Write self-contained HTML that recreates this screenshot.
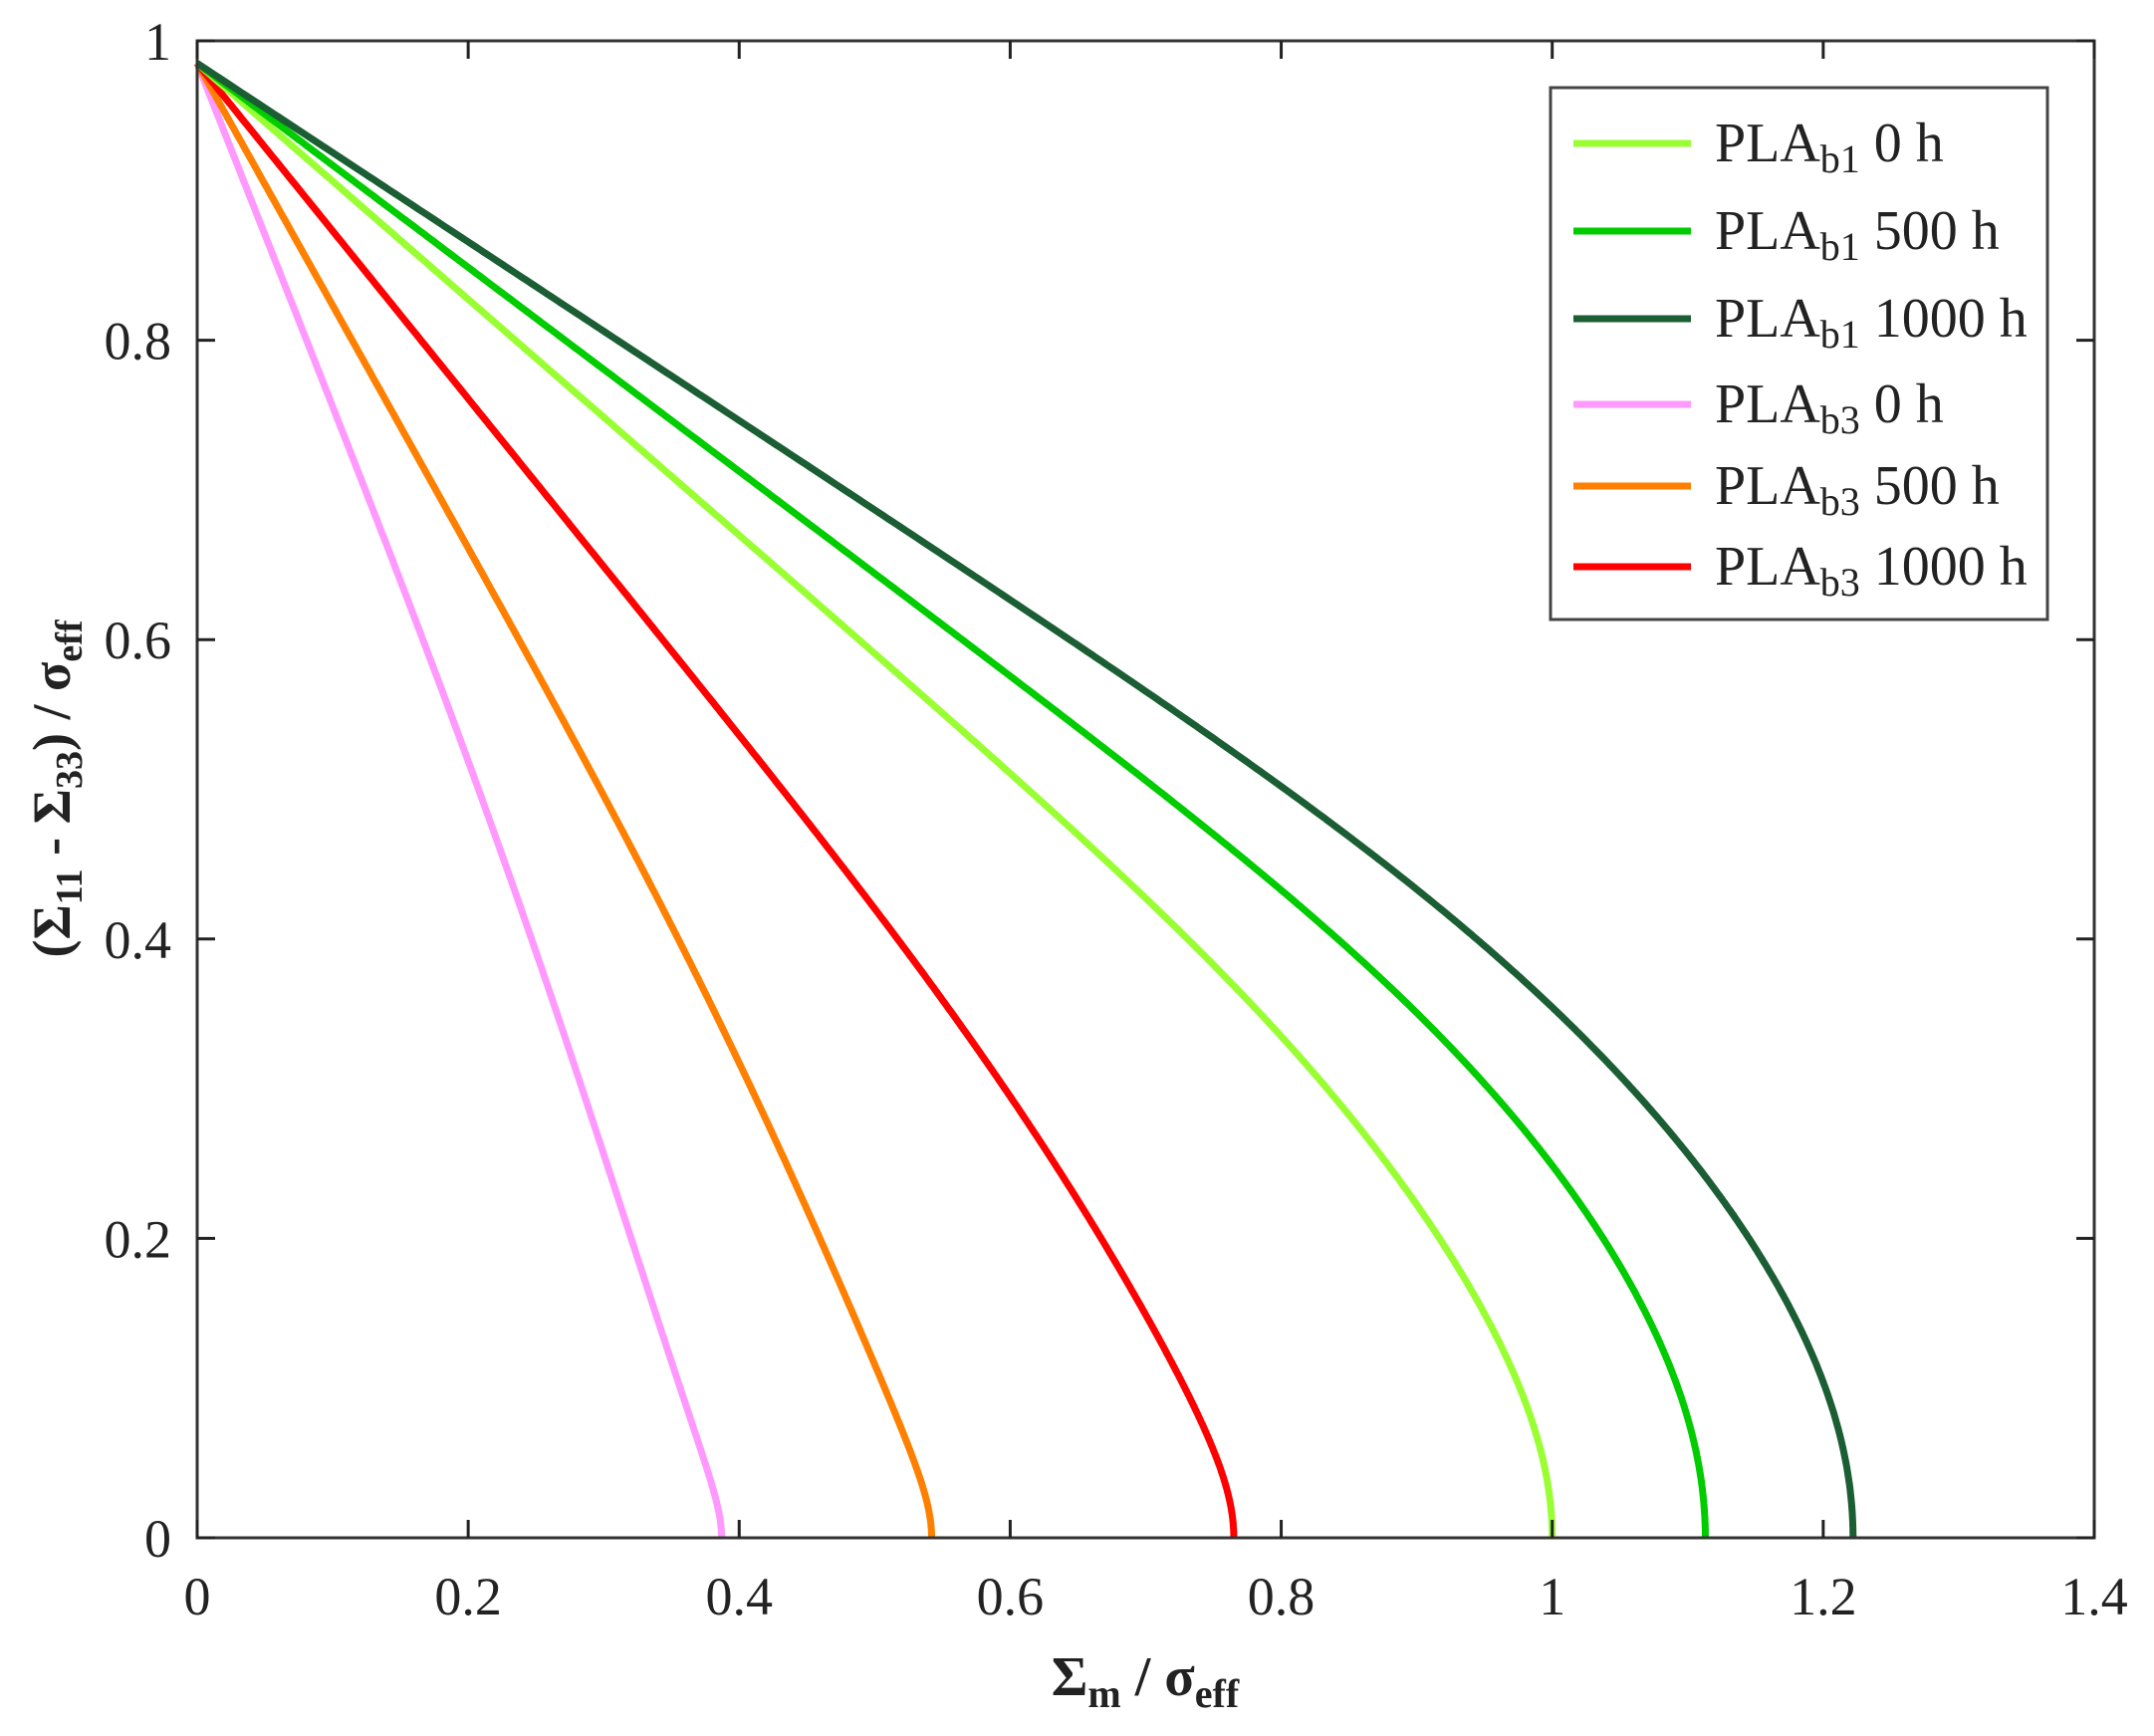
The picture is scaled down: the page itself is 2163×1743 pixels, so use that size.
<!DOCTYPE html>
<html><head><meta charset="utf-8"><style>
html,body{margin:0;padding:0;background:#fff}
svg text{font-family:"Liberation Serif",serif;fill:#222}
</style></head><body>
<svg id="s" width="2163" height="1738" xmlns="http://www.w3.org/2000/svg">
<g id="curves" fill="none" stroke-width="7" stroke-linejoin="round"></g>
<g stroke="#333" stroke-width="3" fill="none">
<rect x="198" y="41" width="1905" height="1503"/>
</g>
<g id="ticks" stroke="#222" stroke-width="3"></g>
<g id="labels" font-size="54"></g>
<text x="1150" y="1702" font-size="56" font-weight="bold" text-anchor="middle">Σ<tspan font-size="40" dy="12">m</tspan><tspan dy="-12"> / σ</tspan><tspan font-size="40" dy="12">eff</tspan></text>
<text transform="translate(70,792) rotate(-90)" font-size="54" font-weight="bold" text-anchor="middle">(Σ<tspan font-size="38" dy="12">11</tspan><tspan dy="-12"> - Σ</tspan><tspan font-size="38" dy="12">33</tspan><tspan dy="-12">) / σ</tspan><tspan font-size="38" dy="12">eff</tspan></text>
<rect x="1557" y="88" width="499" height="534" fill="#fff" stroke="#444" stroke-width="3"/>
<g id="legend" font-size="56"></g>
</svg>
<script>
var X0=198,XS=1360.7,Y0=1544,YS=1503;
function px(p){return X0+p*XS}function py(q){return Y0-q*YS}
var series=[
["#ff99ff",0.387,[[0.6,0.165],[0.4,0.252],[0.2,0.316]]],
["#ff8000",0.542,[[0.6,0.236],[0.4,0.356],[0.2,0.459]]],
["#ff0000",0.765,[[0.6,0.338],[0.4,0.526],[0.2,0.664]]],
["#99ff33",1.0,[[0.6,0.472],[0.4,0.744],[0.2,0.913]]],
["#00cc00",1.113,[[0.6,0.548],[0.4,0.862],[0.2,1.031]]],
["#1b5e34",1.222,[[0.6,0.628],[0.4,0.958],[0.2,1.14]]]];
function f(r,c,k){return 0.985*(1-c*r)*Math.sqrt(Math.max(0,1-Math.pow(r,k)))}
var g=document.getElementById('curves'),NS="http://www.w3.org/2000/svg";
series.forEach(function(s){
 var p0=s[1],best=[0.7,4],be=1e9;
 for(var c=0.2;c<=1.3;c+=0.01)for(var k=1.5;k<=14;k+=0.1){
  var e=0;s[2].forEach(function(d){var r=d[1]/p0;var q=f(r,c,k);e+=(q-d[0])*(q-d[0]);});
  if(e<be){be=e;best=[c,k];}}
 var d="";
 for(var i=0;i<=600;i++){var t=i/600;var r=1-Math.pow(1-t,2);
  var q=f(r,best[0],best[1]);d+=(i?"L":"M")+px(r*p0).toFixed(1)+","+py(q).toFixed(1);}
 var e=document.createElementNS(NS,"path");e.setAttribute("d",d);e.setAttribute("stroke",s[0]);g.appendChild(e);
});
var t=document.getElementById('ticks'),l=document.getElementById('labels');
function line(a,b,c,d){var e=document.createElementNS(NS,"line");e.setAttribute("x1",a);e.setAttribute("y1",b);e.setAttribute("x2",c);e.setAttribute("y2",d);t.appendChild(e);}
function txt(x,y,s,anc){var e=document.createElementNS(NS,"text");e.setAttribute("x",x);e.setAttribute("y",y);e.setAttribute("text-anchor",anc);e.textContent=s;l.appendChild(e);}
var xl=["0","0.2","0.4","0.6","0.8","1","1.2","1.4"];
for(var i=0;i<8;i++){var x=px(i*0.2);line(x,Y0,x,Y0-18);line(x,41,x,59);txt(x,1621,xl[i],"middle");}
var yl=["0","0.2","0.4","0.6","0.8","1"];
for(var i=0;i<6;i++){var y=py(i*0.2);line(X0,y,X0+18,y);line(2103,y,2085,y);txt(172,y+19,yl[i],"end");}
var lg=document.getElementById('legend');
var names=[["b1","0 h"],["b1","500 h"],["b1","1000 h"],["b3","0 h"],["b3","500 h"],["b3","1000 h"]];
var cols=["#99ff33","#00cc00","#1b5e34","#ff99ff","#ff8000","#ff0000"];
var ys=[144,232,320,406,488,569];
for(var i=0;i<6;i++){
 var e=document.createElementNS(NS,"line");e.setAttribute("x1",1580);e.setAttribute("x2",1698);e.setAttribute("y1",ys[i]);e.setAttribute("y2",ys[i]);e.setAttribute("stroke",cols[i]);e.setAttribute("stroke-width",7);lg.appendChild(e);
 var tx=document.createElementNS(NS,"text");tx.setAttribute("x",1722);tx.setAttribute("y",ys[i]+18);
 tx.innerHTML='PLA<tspan font-size="40" dy="11">'+names[i][0]+'</tspan><tspan dy="-11"> '+names[i][1]+'</tspan>';
 lg.appendChild(tx);}
</script>
</body></html>
